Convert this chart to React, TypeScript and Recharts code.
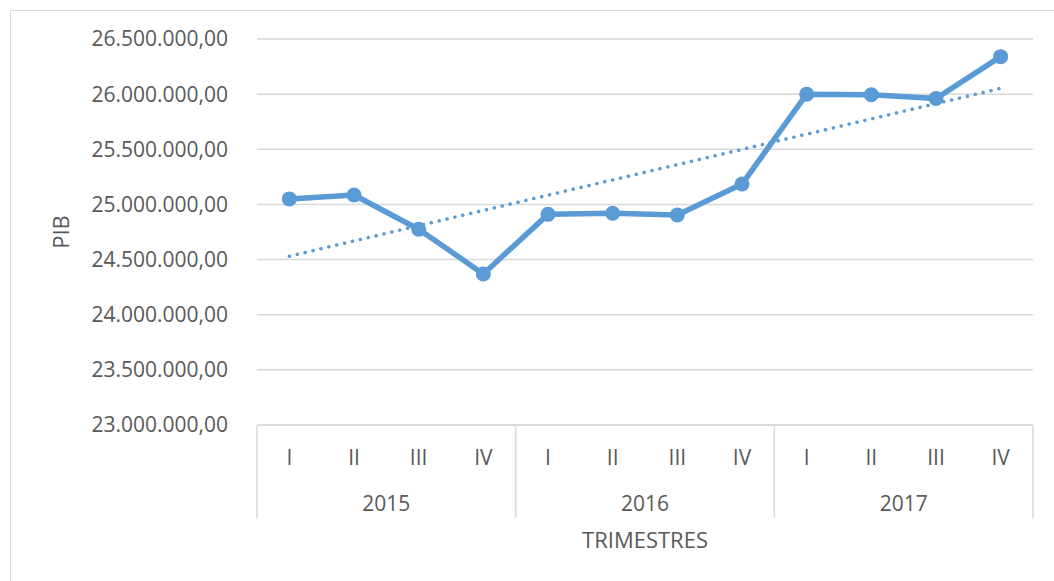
import { LineChart, Line, XAxis, YAxis, CartesianGrid } from 'recharts'

const quarters = ['I', 'II', 'III', 'IV', 'I', 'II', 'III', 'IV', 'I', 'II', 'III', 'IV']
const years = ['2015', '2016', '2017']
const pib = [
  25050000, 25085000, 24775000, 24370000, 24910000, 24920000, 24905000, 25185000, 26000000,
  25995000, 25960000, 26340000,
]
const yTicks = [23000000, 23500000, 24000000, 24500000, 25000000, 25500000, 26000000, 26500000]
const quarterTicks = [1, 2, 3, 4, 5, 6, 7, 8, 9, 10, 11, 12]
const yearTicks = [2.5, 6.5, 10.5]
const sepTicks = [0.5, 4.5, 8.5, 12.5]

const BLUE = '#5b9bd5'
const GRID = '#d9d9d9'
const TEXT = '#595959'
const FAMILY = '"Open Sans", sans-serif'
const FONT = { fontFamily: FAMILY, fontSize: 21, fill: TEXT }
const TITLE = { fontFamily: FAMILY, fontSize: 22, fill: TEXT }

// linear trendline (least squares), like Excel's
function linearTrend(values: number[]) {
  const n = values.length
  const xs = values.map((_, i) => i + 1)
  const mx = xs.reduce((a, b) => a + b, 0) / n
  const my = values.reduce((a, b) => a + b, 0) / n
  let sxy = 0
  let sxx = 0
  xs.forEach((x, i) => {
    sxy += (x - mx) * (values[i] - my)
    sxx += (x - mx) * (x - mx)
  })
  const slope = sxy / sxx
  return xs.map((x) => my + slope * (x - mx))
}

const trend = linearTrend(pib)
const data = pib.map((v, i) => ({ x: i + 1, pib: v, trend: trend[i] }))

function formatEs(v: number) {
  const [int, dec] = v.toFixed(2).split('.')
  return int.replace(/\B(?=(\d{3})+$)/g, '.') + ',' + dec
}

export default function App() {
  return (
    <div
      style={{
        position: 'absolute',
        left: 0,
        top: 0,
        width: 1054,
        height: 581,
        overflow: 'hidden',
        background: '#fff',
      }}
    >
      <div
        style={{
          position: 'absolute',
          left: 10,
          top: 10,
          width: 1100,
          height: 700,
          border: `1px solid ${GRID}`,
        }}
      />
      <div style={{ position: 'absolute', left: 0, top: 0 }}>
        <LineChart
          width={1054}
          height={581}
          data={data}
          margin={{ top: 39, right: 21, bottom: 26, left: 20 }}
        >
          <CartesianGrid vertical={false} stroke={GRID} strokeWidth={1.5} />
          <XAxis
            dataKey="x"
            type="number"
            domain={[0.5, 12.5]}
            ticks={quarterTicks}
            interval={0}
            height={1}
            tickLine={false}
            tickSize={0}
            tickMargin={25}
            axisLine={{ stroke: GRID, strokeWidth: 1.5 }}
            tick={FONT}
            tickFormatter={(v: number) => quarters[v - 1]}
          />
          <XAxis
            xAxisId="sep"
            dataKey="x"
            type="number"
            domain={[0.5, 12.5]}
            ticks={sepTicks}
            interval={0}
            height={1}
            axisLine={false}
            tickSize={92}
            tickLine={{ stroke: GRID, strokeWidth: 1.5 }}
            tickFormatter={() => ''}
          />
          <XAxis
            xAxisId="year"
            dataKey="x"
            type="number"
            domain={[0.5, 12.5]}
            ticks={yearTicks}
            interval={0}
            height={128}
            axisLine={false}
            tickLine={false}
            tickSize={0}
            tickMargin={69}
            tick={FONT}
            tickFormatter={(v: number) => years[(v - 2.5) / 4]}
            label={{
              value: 'TRIMESTRES',
              position: 'insideBottom',
              offset: 7,
              style: TITLE,
            }}
          />
          <YAxis
            width={237}
            domain={[23000000, 26500000]}
            ticks={yTicks}
            interval={0}
            axisLine={false}
            tickLine={false}
            tickSize={0}
            tickMargin={29}
            tick={FONT}
            tickFormatter={formatEs}
            label={{
              content: ({ viewBox }: any) => {
                const cx = viewBox.x + 40
                const cy = viewBox.y + viewBox.height / 2
                return (
                  <text
                    x={cx}
                    y={cy}
                    transform={`rotate(-90 ${cx} ${cy})`}
                    textAnchor="middle"
                    dominantBaseline="central"
                    style={TITLE}
                  >
                    PIB
                  </text>
                )
              },
            }}
          />
          <Line
            dataKey="trend"
            stroke={BLUE}
            strokeWidth={3.5}
            strokeDasharray="0.1 8"
            strokeLinecap="round"
            dot={false}
            activeDot={false}
            isAnimationActive={false}
          />
          <Line
            dataKey="pib"
            stroke={BLUE}
            strokeWidth={5.5}
            strokeLinejoin="round"
            dot={{ r: 7.5, fill: BLUE, stroke: BLUE, strokeWidth: 0 }}
            activeDot={false}
            isAnimationActive={false}
          />
        </LineChart>
      </div>
    </div>
  )
}
